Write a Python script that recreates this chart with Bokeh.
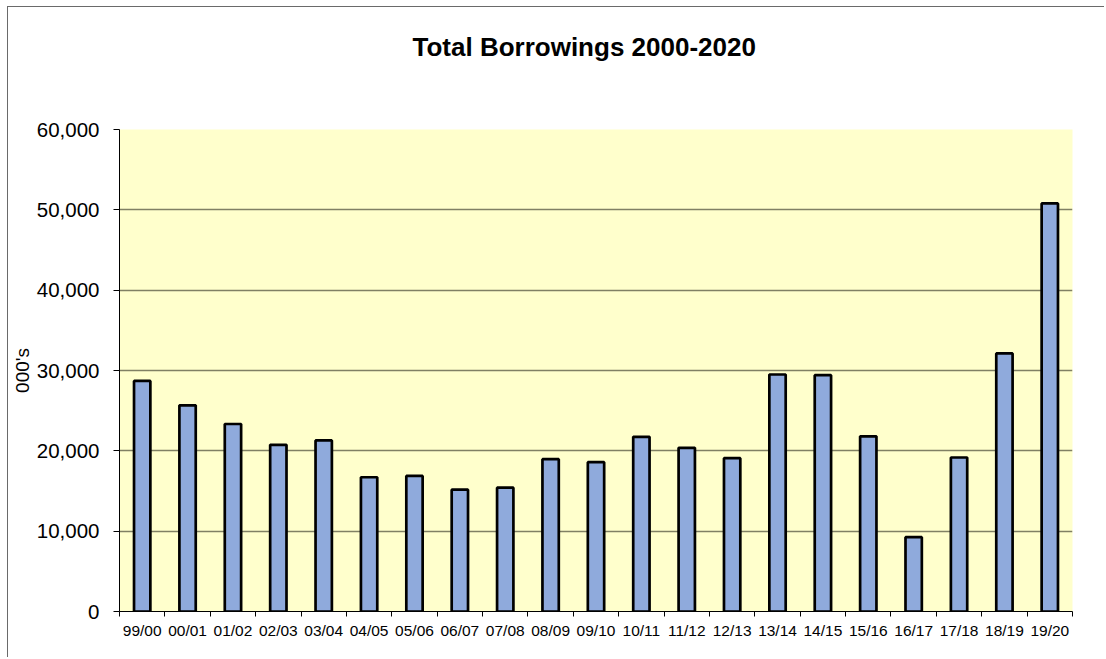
from bokeh.plotting import figure
from bokeh.models import Range1d, FixedTicker, NumeralTickFormatter, LinearAxis, ColumnDataSource, Title
from bokeh.embed import file_html
from bokeh.resources import INLINE
import numpy as np

# ---- data ----
years = ["99/00", "00/01", "01/02", "02/03", "03/04", "04/05", "05/06", "06/07",
         "07/08", "08/09", "09/10", "10/11", "11/12", "12/13", "13/14", "14/15",
         "15/16", "16/17", "17/18", "18/19", "19/20"]
borrowings = [28700, 25670, 23340, 20750, 21300, 16710, 16880, 15170,
              15420, 18960, 18590, 21750, 20380, 19090, 29500, 29420,
              21800, 9250, 19170, 32120, 50800]
y_ticks = [0, 10000, 20000, 30000, 40000, 50000, 60000]
grid_ticks = [10000, 20000, 30000, 40000, 50000]
title_text = "Total Borrowings 2000-2020"
y_label = "000's"

FONT = "Liberation Sans"

n = len(years)
centers = list(np.arange(n) + 0.5)
bounds = list(np.arange(n + 1))
src = ColumnDataSource(dict(x=centers, top=borrowings, label=years))

p = figure(width=1097, height=651, output_backend="svg", toolbar_location=None,
           x_range=Range1d(0, n), y_range=Range1d(0, 60000),
           min_border_left=109, min_border_right=33, min_border_top=122,
           min_border_bottom=47, x_axis_type=None)
p.styles = {"border-left": "1px solid #6a6a6a", "border-top": "1px solid #6a6a6a",
            "margin-left": "7px", "margin-top": "6px"}

p.background_fill_color = "#FFFFCC"
p.border_fill_color = "white"
p.outline_line_color = None

p.vbar(x="x", top="top", width=0.36, bottom=0, source=src,
       fill_color="#8FAADC", line_color="black", line_width=2.7)

# x axis: labels at centres, small ticks at category boundaries
xaxis = LinearAxis(ticker=FixedTicker(ticks=centers, minor_ticks=bounds))
xaxis.major_label_overrides = {c: lab for c, lab in zip(centers, years)}
xaxis.major_tick_line_color = None
xaxis.major_tick_out = 0
xaxis.major_tick_in = 0
xaxis.minor_tick_line_color = "black"
xaxis.minor_tick_out = 5
xaxis.minor_tick_in = 0
xaxis.axis_line_color = "black"
xaxis.major_label_text_font = FONT
xaxis.major_label_text_font_size = "15.5px"
xaxis.major_label_text_color = "black"
xaxis.major_label_standoff = 5
p.add_layout(xaxis, "below")

# y axis
yaxis = p.yaxis[0]
yaxis.ticker = FixedTicker(ticks=y_ticks)
yaxis.formatter = NumeralTickFormatter(format="0,0")
yaxis.major_tick_out = 6
yaxis.major_tick_in = 0
yaxis.minor_tick_line_color = None
yaxis.axis_line_color = "black"
yaxis.major_tick_line_color = "black"
yaxis.major_label_text_font = FONT
yaxis.major_label_text_font_size = "20.5px"
yaxis.major_label_text_color = "black"
yaxis.major_label_standoff = 14
yaxis.axis_label = y_label
yaxis.axis_label_text_font = FONT
yaxis.axis_label_text_font_size = "19px"
yaxis.axis_label_text_font_style = "normal"
yaxis.axis_label_text_color = "black"
yaxis.axis_label_standoff = 1

p.ygrid.ticker = FixedTicker(ticks=grid_ticks)
p.ygrid.grid_line_color = "#808064"
p.ygrid.grid_line_width = 1.4
p.xgrid.visible = False

# spacer between the plotting area and the chart title
spacer = Title(text=" ", text_font_size="2px", standoff=64)
p.add_layout(spacer, "above")

p.title.text = title_text
p.title.text_font = FONT
p.title.text_font_size = "26px"
p.title.text_font_style = "bold"
p.title.text_color = "black"
p.title.align = "left"
p.title.offset = 293
p.title.standoff = 0
p.title.vertical_align = "bottom"

open("out.html", "w").write(file_html(p, INLINE))
